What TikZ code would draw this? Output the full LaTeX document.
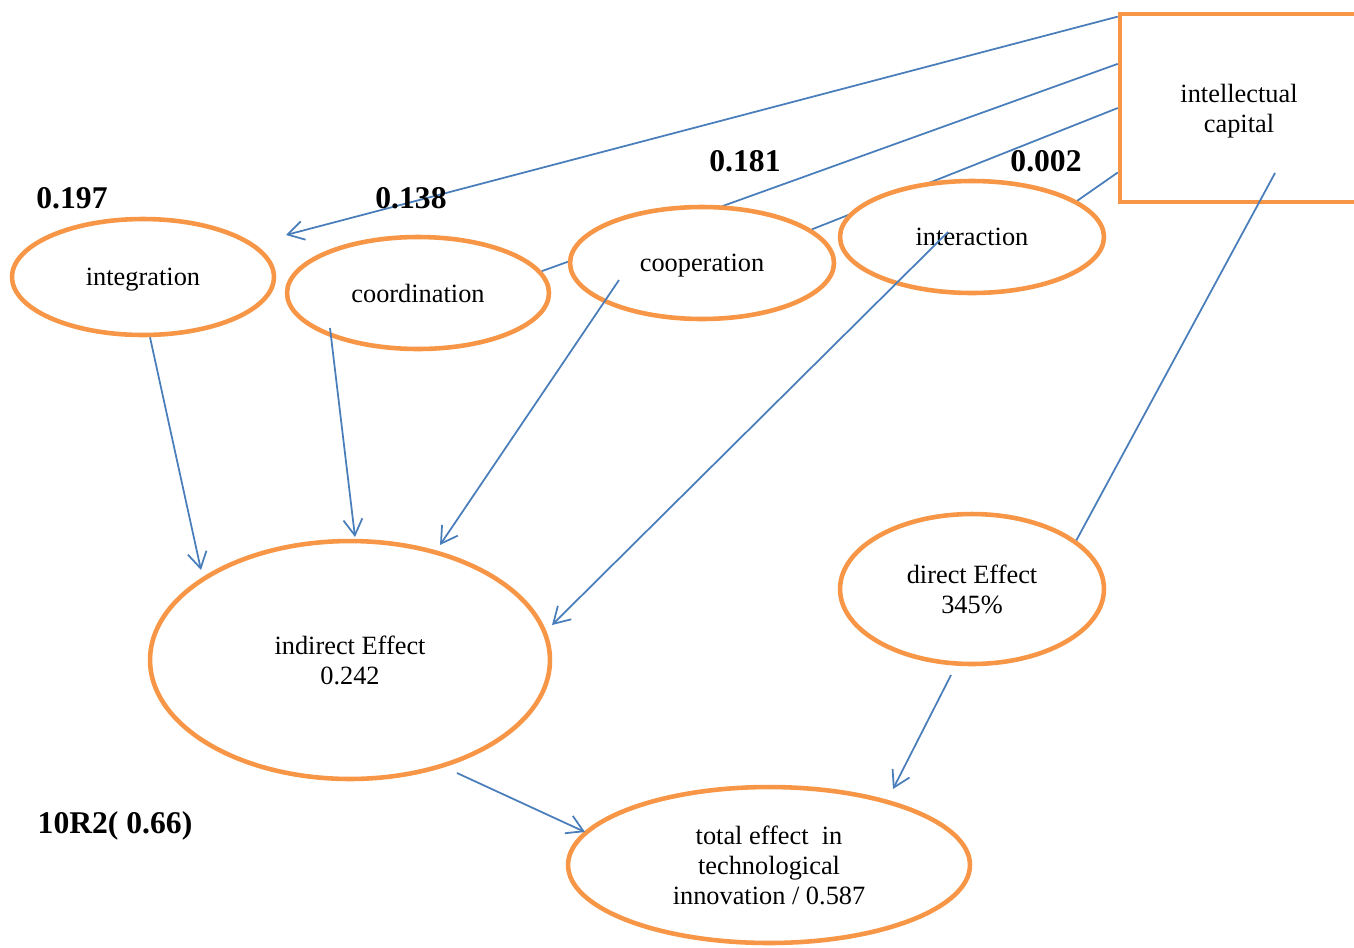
\documentclass[tikz,border=0pt]{standalone}
\usepackage{fontspec}
\setmainfont{Liberation Serif}
\usetikzlibrary{
    arrows.meta,
    calc,
    shapes.geometric,
    backgrounds
}
\definecolor{icorange}{HTML}{F79646}
\definecolor{icblue}{HTML}{4A7EBB}
\tikzset{
    factor/.style={ellipse, draw=icorange, line width=2.6pt, fill=white,
        inner sep=0pt, align=center, text depth=0pt,
        font=\fontsize{15}{17}\selectfont},
    link/.style={draw=icblue, line width=1pt},
    linkto/.style={link, -{Straight Barb[length=0.32cm,width=0.38cm]}},
    coef/.style={font=\fontsize{18}{21}\selectfont\bfseries}
}

\begin{document}
\begin{tikzpicture}[x=0.02cm, y=-0.02cm]
\useasboundingbox (0,0) rectangle (1354,947);

% source box
\node[draw=icorange, line width=2.6pt, fill=white, minimum width=4.76cm,
    minimum height=3.76cm, align=center, text depth=0pt,
    font=\fontsize{15}{17}\selectfont]
    (ic) at (1239,108) {intellectual\\capital};

% dimensions
\node[factor, minimum width=5.24cm, minimum height=2.32cm] (integ) at (143,277) {integration};
\node[factor, minimum width=5.24cm, minimum height=2.24cm] (coord) at (418,293) {coordination};
\node[factor, minimum width=5.28cm, minimum height=2.24cm] (coop) at (702,263) {cooperation};
\node[factor, minimum width=5.28cm, minimum height=2.24cm] (inter) at (972,237) {interaction};

% effects
\node[factor, minimum width=8cm, minimum height=4.76cm] (indirect) at (350,660) {indirect Effect\\0.242};
\node[factor, minimum width=5.28cm, minimum height=3cm] (direct) at (972,589) {direct Effect\\345\%};
\node[factor, minimum width=8.04cm, minimum height=3.12cm] (total) at (769,865) {total effect~ in\\technological\\innovation / 0.587};

% coefficients
\node[coef] (cinteg) at (72,198) {0.197};
\node[coef] (ccoord) at (411,198) {0.138};
\node[coef] (ccoop) at (745,161) {0.181};
\node[coef] (cinter) at (1046,161) {0.002};
\node[coef] (rsq) at (115,826) {10R2( 0.66)};

\begin{scope}[on background layer]
\draw[linkto] (ic.143) -- ($(integ.center)+(143,-42)$);
\draw[link] (ic.160) -- (coord.10);
\draw[link] (ic.west) -- (coop.17);
\draw[link] (ic.208) -- (inter.19);
\end{scope}
\draw[link] ($(ic.center)+(36,65)$) -- (direct.25);

\draw[linkto] ($(integ.south)+(7,0)$) -- ($(indirect.center)+(-149,-90)$);
\draw[linkto] ($(coord.center)+(-88,35)$) -- ($(indirect.center)+(5,-123)$);
\draw[linkto] ($(coop.center)+(-83,17)$) -- ($(indirect.center)+(90,-115)$);
\draw[linkto] ($(inter.center)+(-24,-5)$) -- ($(indirect.center)+(202,-35)$);
\draw[linkto] ($(indirect.center)+(107,113)$) -- ($(total.center)+(-184,-33)$);
\draw[linkto] ($(direct.center)+(-21,86)$) -- ($(total.center)+(124,-76)$);
\end{tikzpicture}
\end{document}
